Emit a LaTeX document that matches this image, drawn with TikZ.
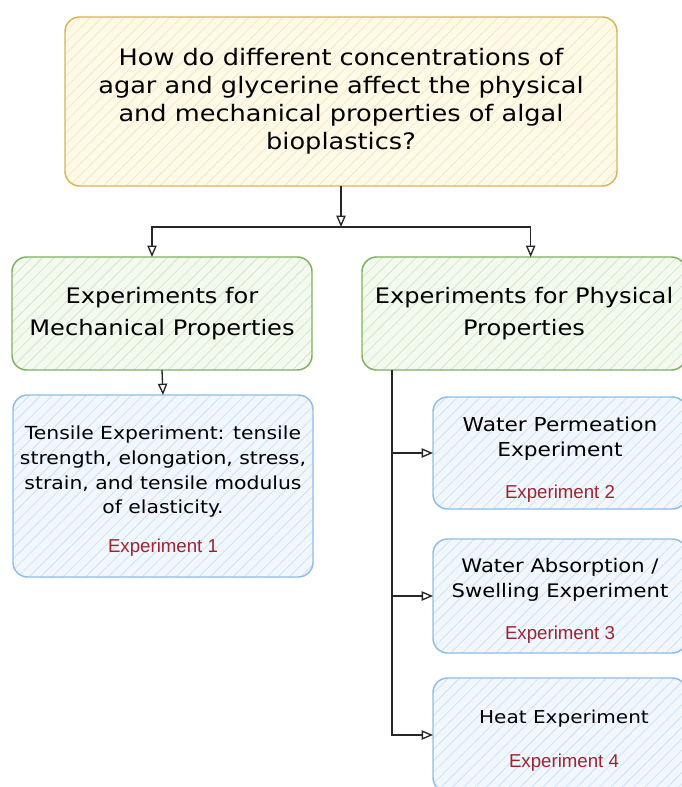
\documentclass[tikz,border=0pt]{standalone}
\usepackage{fontspec}
\setmainfont{DejaVu Sans}[FakeStretch=1.13]
\newfontfamily\labelfont{Liberation Sans}
\usepackage{tikz}
\usetikzlibrary{arrows.meta, positioning, calc, patterns.meta}
\definecolor{GoldLine}{RGB}{214, 182, 86}
\definecolor{GoldFill}{RGB}{255, 250, 232}
\definecolor{GoldHatch}{RGB}{243, 232, 196}
\definecolor{LeafLine}{RGB}{126, 178, 96}
\definecolor{LeafFill}{RGB}{243, 249, 239}
\definecolor{LeafHatch}{RGB}{212, 232, 200}
\definecolor{SkyLine}{RGB}{142, 189, 234}
\definecolor{SkyFill}{RGB}{241, 247, 253}
\definecolor{SkyHatch}{RGB}{206, 226, 247}
\definecolor{ExpRed}{RGB}{158, 36, 48}

\begin{document}
\begin{tikzpicture}[
  x=0.75pt, y=-0.75pt,
  box/.style={
    rectangle, rounded corners=11pt, line width=1.1pt,
    inner sep=0pt, outer sep=0pt, align=center
  },
  quest/.style={box, draw=GoldLine, preaction={fill=GoldFill},
    pattern={Lines[angle=45, distance=6pt, line width=0.6pt]}, pattern color=GoldHatch,
    font=\fontsize{17}{21}\selectfont},
  group/.style={box, draw=LeafLine, preaction={fill=LeafFill},
    pattern={Lines[angle=45, distance=6pt, line width=0.6pt]}, pattern color=LeafHatch,
    font=\fontsize{16}{24}\selectfont},
  test/.style={box, draw=SkyLine, preaction={fill=SkyFill},
    pattern={Lines[angle=45, distance=6pt, line width=0.6pt]}, pattern color=SkyHatch},
  desc/.style={align=center, inner sep=0pt, font=\fontsize{13.5}{18.5}\selectfont},
  tag/.style={inner sep=0pt, text=ExpRed, font=\labelfont\fontsize{14}{16}\selectfont},
  arr/.style={-{Triangle[open, length=8.5pt, width=7pt]}, line width=1pt, draw=black!85}
]
  \useasboundingbox (0,0) rectangle (681,787);

  \node[quest, minimum width=414pt, minimum height=126.75pt] (question) at (341,101.5)
    {How do different concentrations of\\agar and glycerine affect the physical\\and mechanical properties of algal\\bioplastics?};

  \node[group, minimum width=225pt, minimum height=84.75pt] (mech) at (162,313.5)
    {Experiments for\\Mechanical Properties};
  \node[group, minimum width=243pt, minimum height=84.75pt] (phys) at (524,313.5)
    {Experiments for Physical\\Properties};

  % test boxes
  \node[test, minimum width=225pt, minimum height=136.5pt] (tensile) at (163,486) {};
  \node[test, minimum width=190.5pt, minimum height=84pt]  (perm)    at (560,453) {};
  \node[test, minimum width=190.5pt, minimum height=85.5pt] (absorb) at (560,596) {};
  \node[test, minimum width=190.5pt, minimum height=85.5pt] (heat)   at (560,735) {};

  \node[desc] (tensiletxt) at (163,472)
    {Tensile Experiment: tensile\\strength, elongation, stress,\\strain, and tensile modulus\\of elasticity.};
  \node[tag]  (tensiletag) at (163,548) {Experiment 1};
  \node[desc, font=\fontsize{14.4}{18.5}\selectfont] (permtxt) at (560,439) {Water Permeation\\Experiment};
  \node[tag]  (permtag) at (560,494) {Experiment 2};
  \node[desc, font=\fontsize{14}{18.5}\selectfont] (absorbtxt) at (560,580) {Water Absorption /\\Swelling Experiment};
  \node[tag]  (absorbtag) at (560,635) {Experiment 3};
  \node[desc, font=\fontsize{13.3}{18.5}\selectfont] (heattxt) at (564,719) {Heat Experiment};
  \node[tag]  (heattag) at (564,763) {Experiment 4};

  % connectors
  \coordinate (split) at (341,227);
  \draw[arr] (question.south) -- (split);
  \draw[arr] (split) -| ([xshift=-7.5pt]mech.north);
  \draw[arr] (split) -| ([xshift=5pt]phys.north);
  \draw[arr] (mech.south) -- (tensile.north);
  \draw[arr] ([xshift=22.5pt]phys.south west) |- (perm.west);
  \draw[arr] ([xshift=22.5pt]phys.south west) |- (absorb.west);
  \draw[arr] ([xshift=22.5pt]phys.south west) |- (heat.west);
\end{tikzpicture}
\end{document}
